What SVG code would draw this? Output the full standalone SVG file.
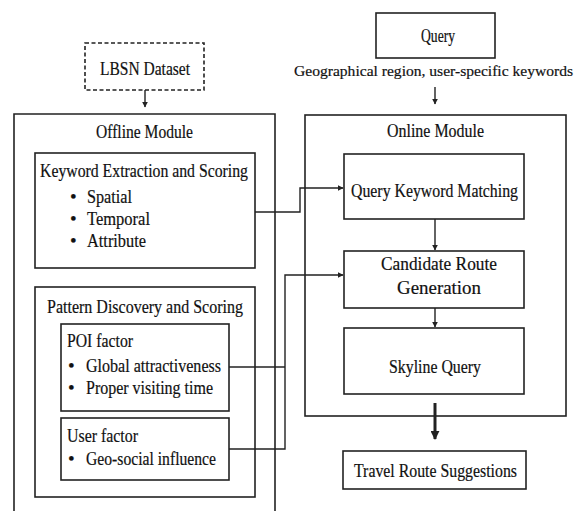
<svg xmlns="http://www.w3.org/2000/svg" width="579" height="511" viewBox="0 0 579 511">
<defs>
<style>
.b{fill:#fff;stroke:#222;stroke-width:1.6}
.t{font-family:"Liberation Serif","Times New Roman",serif;font-size:19px;fill:#111;stroke:#111;stroke-width:0.2}
.c{fill:none;stroke:#222;stroke-width:1.4}
</style>
<marker id="ah" viewBox="0 0 10 10" refX="9" refY="5" markerWidth="6" markerHeight="6" orient="auto" markerUnits="userSpaceOnUse">
<path d="M0,0 L10,5 L0,10 z" fill="#222"/>
</marker>
<marker id="ah2" viewBox="0 0 10 10" refX="9" refY="5" markerWidth="9" markerHeight="9" orient="auto" markerUnits="userSpaceOnUse">
<path d="M0,0 L10,5 L0,10 z" fill="#222"/>
</marker>
</defs>
<rect width="579" height="511" fill="#fff"/>

<g id="offline">
<path class="b" d="M14,511 V114 H275 V511"/>
<text class="t" x="96" y="138" textLength="97" lengthAdjust="spacingAndGlyphs">Offline Module</text>
</g>

<g id="online">
<rect class="b" x="305" y="115" width="261" height="301"/>
<text class="t" x="387" y="137" textLength="97" lengthAdjust="spacingAndGlyphs">Online Module</text>
</g>

<g id="lbsn">
<rect x="85" y="43" width="119" height="47" fill="#fff" stroke="#222" stroke-width="1.6" stroke-dasharray="4,2.5"/>
<text class="t" x="100" y="75" textLength="90" lengthAdjust="spacingAndGlyphs">LBSN Dataset</text>
</g>

<g id="keyword">
<rect class="b" x="35" y="153" width="220" height="115"/>
<text class="t" x="40" y="177" textLength="208" lengthAdjust="spacingAndGlyphs">Keyword Extraction and Scoring</text>
<text class="t" x="70" y="203">•</text>
<text class="t" x="87" y="203" textLength="45" lengthAdjust="spacingAndGlyphs">Spatial</text>
<text class="t" x="70" y="225">•</text>
<text class="t" x="87" y="225" textLength="63" lengthAdjust="spacingAndGlyphs">Temporal</text>
<text class="t" x="70" y="247">•</text>
<text class="t" x="87" y="247" textLength="59" lengthAdjust="spacingAndGlyphs">Attribute</text>
</g>

<g id="pattern">
<rect class="b" x="35" y="287" width="220" height="210"/>
<text class="t" x="47" y="313" textLength="196" lengthAdjust="spacingAndGlyphs">Pattern Discovery and Scoring</text>
</g>

<g id="poi">
<rect class="b" x="61" y="324" width="168" height="87"/>
<text class="t" x="67" y="347" textLength="66" lengthAdjust="spacingAndGlyphs">POI factor</text>
<text class="t" x="68" y="372">•</text>
<text class="t" x="86" y="372" textLength="135" lengthAdjust="spacingAndGlyphs">Global attractiveness</text>
<text class="t" x="68" y="394">•</text>
<text class="t" x="86" y="394" textLength="127" lengthAdjust="spacingAndGlyphs">Proper visiting time</text>
</g>

<g id="user">
<rect class="b" x="61" y="418" width="168" height="62"/>
<text class="t" x="67" y="442" textLength="71" lengthAdjust="spacingAndGlyphs">User factor</text>
<text class="t" x="68" y="465">•</text>
<text class="t" x="86" y="465" textLength="130" lengthAdjust="spacingAndGlyphs">Geo-social influence</text>
</g>

<g id="query">
<rect class="b" x="376" y="13" width="119" height="45"/>
<text class="t" x="421" y="42" textLength="34" lengthAdjust="spacingAndGlyphs">Query</text>
<text class="t" x="294" y="76" font-size="15.5" style="font-size:15.5px" textLength="279" lengthAdjust="spacingAndGlyphs">Geographical region, user-specific keywords</text>
</g>

<g id="qkm">
<rect class="b" x="344" y="154" width="180" height="65"/>
<text class="t" x="351" y="197" textLength="167" lengthAdjust="spacingAndGlyphs">Query Keyword Matching</text>
</g>

<g id="candidate">
<rect class="b" x="344" y="251" width="180" height="57"/>
<text class="t" x="381" y="270" textLength="116" lengthAdjust="spacingAndGlyphs">Candidate Route</text>
<text class="t" x="397" y="294" textLength="84" lengthAdjust="spacingAndGlyphs">Generation</text>
</g>

<g id="skyline">
<rect class="b" x="344" y="328" width="180" height="66"/>
<text class="t" x="389" y="373" textLength="92" lengthAdjust="spacingAndGlyphs">Skyline Query</text>
</g>

<g id="travel">
<rect class="b" x="343" y="451" width="183" height="38"/>
<text class="t" x="354" y="477" textLength="163" lengthAdjust="spacingAndGlyphs">Travel Route Suggestions</text>
</g>

<g id="connectors">
<path class="c" d="M145,90 V107" marker-end="url(#ah)"/>
<path class="c" d="M435,87 V104" marker-end="url(#ah)"/>
<path class="c" d="M255,212 H300 V188 H343" marker-end="url(#ah)"/>
<path class="c" d="M229,367 H285"/>
<path class="c" d="M229,449 H285 V275 H343" marker-end="url(#ah)"/>
<path class="c" d="M435,219 V250" marker-end="url(#ah)"/>
<path class="c" d="M435,308 V327" marker-end="url(#ah)"/>
<path fill="none" stroke="#222" stroke-width="3" d="M435,403 V439" marker-end="url(#ah2)"/>
</g>
</svg>
